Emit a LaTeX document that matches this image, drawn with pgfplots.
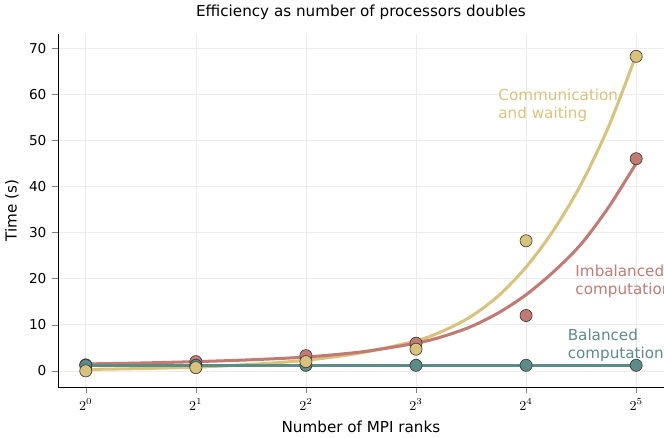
\documentclass[border=0pt]{standalone}
\usepackage{pgfplots}
\pgfplotsset{compat=1.18}
\usepackage{fontspec}
\setmainfont{DejaVu Sans}
\definecolor{bal}{HTML}{5B8C88}
\definecolor{imb}{HTML}{C27A72}
\definecolor{com}{HTML}{D9C27A}
\begin{document}
\begin{tikzpicture}
\begin{axis}[
 width=15.6cm,height=9.75cm,
 xmin=-0.25,xmax=5.25,ymin=-3.5,ymax=73,
 xtick={0,1,2,3,4,5},xticklabels={$2^0$,$2^1$,$2^2$,$2^3$,$2^4$,$2^5$},
 ytick={0,10,...,70},
 /pgf/number format/assume math mode=true,
 tick label style={font=\small},
 axis x line*=bottom, axis y line*=left,
 grid=major, grid style={gray!15},
 tick align=outside, tick pos=left,
 title={Efficiency as number of processors doubles},
 xlabel={Number of MPI ranks}, ylabel={Time (s)},
]
\addplot[com,line width=2pt,smooth] coordinates {(0,0.3)(0.5,0.5)(1,0.8)(1.5,1.4)(2,2.3)(2.5,3.9)(3,6.5)(3.25,8.7)(3.5,11.8)(3.75,16.3)(4,22.5)(4.25,30.5)(4.5,40.5)(4.75,53)(5,68.5)};
\addplot[imb,line width=2pt,smooth] coordinates {(0,1.5)(0.5,1.7)(1,2)(1.5,2.4)(2,3)(2.5,4.1)(3,6)(3.25,7.5)(3.5,9.6)(3.75,12.6)(4,16.5)(4.25,21.5)(4.5,27.5)(4.75,35.5)(5,45)};
\addplot[bal,line width=2pt] coordinates {(0,1.2)(5,1.2)};
\addplot[only marks,mark=*,mark size=4pt,mark options={fill=imb,draw=black!80}] coordinates {(0,1.3)(1,2.0)(2,3.3)(3,6.0)(4,12)(5,46)};
\addplot[only marks,mark=*,mark size=4pt,mark options={fill=bal,draw=black!80}] coordinates {(0,1.2)(1,1.2)(2,1.2)(3,1.2)(4,1.2)(5,1.2)};
\addplot[only marks,mark=*,mark size=4pt,mark options={fill=com,draw=black!80}] coordinates {(0,0)(1,0.7)(2,2.0)(3,4.7)(4,28.2)(5,68.2)};
\node[com,align=left,anchor=west] at (axis cs:3.7,57.5) {Communication\\and waiting};
\node[imb,align=left,anchor=west] at (axis cs:4.4,19.5) {Imbalanced\\computation};
\node[bal,align=left,anchor=west] at (axis cs:4.33,5.5) {Balanced\\computation};
\end{axis}
\end{tikzpicture}
\end{document}
